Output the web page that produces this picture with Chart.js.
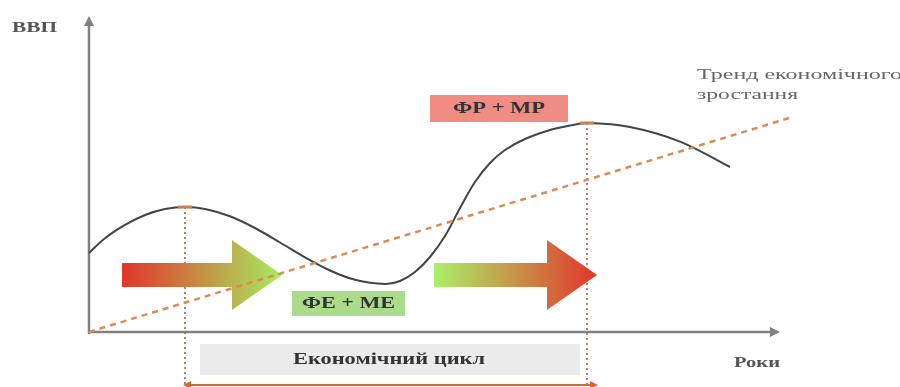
<!DOCTYPE html>
<html>
<head>
<meta charset="utf-8">
<script src="https://cdn.jsdelivr.net/npm/chart.js@4"></script>
<style>
  html, body { margin: 0; padding: 0; background: #fff; }
  #wrap { width: 900px; height: 387px; }
  canvas { filter: blur(0.5px); }
</style>
</head>
<body>
<div id="wrap"><canvas id="myChart" width="900" height="387"></canvas></div>
<script>
// business cycle curve (time / GDP, arbitrary units 0..100)
const cycleX = [0, 2.32, 5.22, 8.13, 11.03, 13.93, 16.84, 20.46, 24.09, 27.72, 31.35, 34.98, 38.61, 42.96,
                45.14, 47.31, 49.49, 51.67, 53.85, 56.02, 58.20, 60.38, 63.28, 66.91, 69.81, 72.28,
                78.52, 85.78, 93.03];
const cycleY = [25.16, 29.87, 34.08, 37.26, 39.17, 39.81, 39.20, 36.88, 33.12, 28.50, 23.76, 19.59, 16.62, 15.29,
                16.24, 19.11, 23.89, 30.57, 39.49, 47.77, 53.82, 57.96, 61.46, 64.33, 65.76, 66.56,
                65.29, 60.64, 52.55];
// growth trend line
const trendX = [0, 101.7];
const trendY = [0, 68.2];
// peaks of the cycle
const peakX = [13.93, 72.28];
const peakY = [39.81, 66.56];
// labels
const axisLabels = ['ВВП', 'Роки'];
const trendLabel = ['Тренд економічного', 'зростання'];
const cycleLabel = 'Економічний цикл';
const boxLabels = ['ФР + МР', 'ФЕ + МЕ'];

const toPoints = (xs, ys) => xs.map((x, i) => ({ x: x, y: ys[i] }));

// text stretched to a given width (the original picture is stretched sideways)
function fitText(ctx, text, left, mid, width, font, color) {
    ctx.save();
    ctx.font = font;
    ctx.fillStyle = color;
    ctx.textAlign = 'left';
    ctx.textBaseline = 'middle';
    const w = ctx.measureText(text).width;
    ctx.translate(left, mid);
    ctx.scale(width / w, 1);
    ctx.fillText(text, 0, 0);
    ctx.restore();
}

const diagram = {
    id: 'diagram',
    beforeDatasetsDraw(chart) {
        const ctx = chart.ctx;
        const xs = chart.scales.x, ys = chart.scales.y;
        const px = v => xs.getPixelForValue(v);
        const py = v => ys.getPixelForValue(v);
        const x0 = px(0), y0 = py(0);

        ctx.save();
        // axes
        ctx.strokeStyle = '#808080';
        ctx.fillStyle = '#808080';
        ctx.lineWidth = 2.5;
        ctx.beginPath();
        ctx.moveTo(x0, y0 + 2);
        ctx.lineTo(x0, py(100) + 6);
        ctx.moveTo(x0, y0);
        ctx.lineTo(px(100) - 6, y0);
        ctx.stroke();
        ctx.beginPath();
        ctx.moveTo(x0, py(100) - 2);
        ctx.lineTo(x0 - 5, py(100) + 8);
        ctx.lineTo(x0 + 5, py(100) + 8);
        ctx.fill();
        ctx.beginPath();
        ctx.moveTo(px(100) + 2, y0);
        ctx.lineTo(px(100) - 8, y0 - 5);
        ctx.lineTo(px(100) - 8, y0 + 5);
        ctx.fill();

        // grey cycle box
        ctx.fillStyle = '#ebebeb';
        ctx.fillRect(200, 344, 380, 31);

        // vertical dotted lines from peaks
        ctx.strokeStyle = '#9a5a3a';
        ctx.lineWidth = 1.5;
        ctx.setLineDash([2, 3]);
        peakX.forEach((p, i) => {
            ctx.beginPath();
            ctx.moveTo(px(p), py(peakY[i]));
            ctx.lineTo(px(p), 387);
            ctx.stroke();
        });
        ctx.setLineDash([]);

        // orange line under the cycle box, arrowheads at both ends
        const la = px(peakX[0]), lb = px(peakX[1]) + 9;
        ctx.strokeStyle = '#d06a35';
        ctx.fillStyle = '#d06a35';
        ctx.lineWidth = 2;
        ctx.beginPath();
        ctx.moveTo(la, 385);
        ctx.lineTo(lb, 385);
        ctx.stroke();
        ctx.beginPath();
        ctx.moveTo(la - 2, 385);
        ctx.lineTo(la + 6, 381);
        ctx.lineTo(la + 6, 389);
        ctx.fill();
        ctx.beginPath();
        ctx.moveTo(lb + 2, 385);
        ctx.lineTo(lb - 6, 381);
        ctx.lineTo(lb - 6, 389);
        ctx.fill();

        // coloured label boxes
        ctx.fillStyle = '#f08c82';
        ctx.fillRect(430, 95, 138, 27);
        ctx.fillStyle = '#abdc8c';
        ctx.fillRect(292, 291, 113, 25);

        // gradient arrows
        const arrow = (xa, xh, xt, yc, c1, c2) => {
            const g = ctx.createLinearGradient(xa, 0, xt, 0);
            g.addColorStop(0, c1);
            g.addColorStop(1, c2);
            ctx.fillStyle = g;
            ctx.beginPath();
            ctx.moveTo(xa, yc - 12);
            ctx.lineTo(xh, yc - 12);
            ctx.lineTo(xh, yc - 35);
            ctx.lineTo(xt, yc);
            ctx.lineTo(xh, yc + 35);
            ctx.lineTo(xh, yc + 12);
            ctx.lineTo(xa, yc + 12);
            ctx.closePath();
            ctx.fill();
        };
        arrow(122, 232, 282, 275, '#e2352a', '#a6ec60');
        arrow(434, 547, 597, 275, '#acf06a', '#e2352a');

        // texts
        const serif = '"Liberation Serif", serif';
        fitText(ctx, axisLabels[0], 12, 28, 45, 'bold 15px ' + serif, '#555');
        fitText(ctx, axisLabels[1], 734, 363, 46, 'bold 15px ' + serif, '#555');
        fitText(ctx, trendLabel[0], 697, 75, 205, '15px ' + serif, '#666');
        fitText(ctx, trendLabel[1], 697, 95, 101, '15px ' + serif, '#666');
        fitText(ctx, cycleLabel, 293, 360, 192, 'bold 16px ' + serif, '#333');
        fitText(ctx, boxLabels[0], 453, 109, 92, 'bold 16px ' + serif, '#333');
        fitText(ctx, boxLabels[1], 302, 304, 93, 'bold 16px ' + serif, '#333');
        ctx.restore();
    },
    afterDatasetsDraw(chart) {
        const ctx = chart.ctx;
        const xs = chart.scales.x, ys = chart.scales.y;
        ctx.save();
        ctx.strokeStyle = '#c98050';
        ctx.lineWidth = 3;
        peakX.forEach((p, i) => {
            const x = xs.getPixelForValue(p), y = ys.getPixelForValue(peakY[i]);
            ctx.beginPath();
            ctx.moveTo(x - 7, y);
            ctx.lineTo(x + 7, y);
            ctx.stroke();
        });
        ctx.restore();
    }
};

const ctx = document.getElementById('myChart').getContext('2d');
const chart = new Chart(ctx, {
    type: 'line',
    data: {
        datasets: [
            {
                label: 'Trend',
                data: toPoints(trendX, trendY),
                borderColor: '#dd8a55',
                borderWidth: 2.5,
                borderDash: [6, 5],
                pointRadius: 0,
                fill: false,
                clip: false
            },
            {
                label: 'Cycle',
                data: toPoints(cycleX, cycleY),
                borderColor: '#444',
                borderWidth: 2,
                tension: 0.35,
                pointRadius: 0,
                fill: false,
                clip: false
            }
        ]
    },
    options: {
        responsive: false,
        animation: false,
        layout: { padding: { left: 89, right: 122, top: 18, bottom: 55 } },
        plugins: { legend: { display: false }, tooltip: { enabled: false } },
        scales: {
            x: { type: 'linear', min: 0, max: 100, display: false },
            y: { type: 'linear', min: 0, max: 100, display: false }
        }
    },
    plugins: [diagram]
});
</script>
</body>
</html>
